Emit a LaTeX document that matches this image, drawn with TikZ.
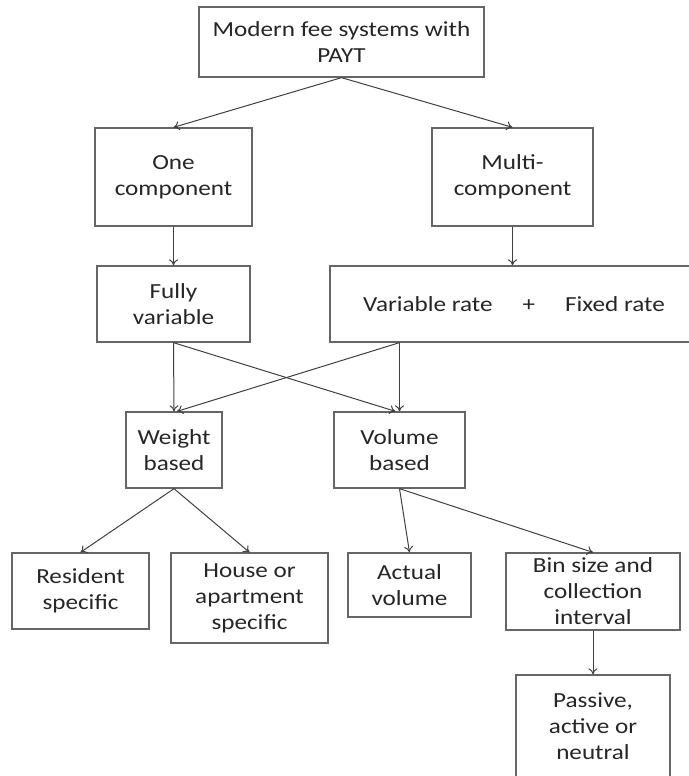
\documentclass[tikz,border=0pt]{standalone}
\usepackage{fontspec}
\setmainfont[FakeStretch=1.17]{Carlito}
\usetikzlibrary{arrows.meta}
\definecolor{boxline}{HTML}{666666}
\definecolor{arrline}{HTML}{404040}
\definecolor{txt}{HTML}{262626}
\tikzset{
  box/.style={draw=boxline, line width=1.3pt, inner sep=0pt, align=center, text=txt,
    font=\fontsize{21.5}{26}\selectfont},
  conn/.style={draw=arrline, line width=1pt, -{To[length=6pt,width=9pt]}}
}
\begin{document}
\begin{tikzpicture}[x=1pt,y=-1pt]
\useasboundingbox (0,0) rectangle (688,776);
\node[box, minimum width=285pt, minimum height=70pt] (top) at (341.5,42) {Modern fee systems with\\PAYT};
\node[box, minimum width=157pt, minimum height=98pt] (one) at (173.5,177) {One\\component};
\node[box, minimum width=161pt, minimum height=98pt] (multi) at (512.5,177) {Multi-\\component};
\node[box, minimum width=153pt, minimum height=76pt] (fully) at (173.5,304) {Fully\\variable};
\node[box, minimum width=368pt, minimum height=76pt] (varfix) at (514,304) {Variable rate\hspace{30pt}+\hspace{30pt}Fixed rate};
\node[box, minimum width=96pt, minimum height=76pt] (weight) at (174,450) {Weight\\based};
\node[box, minimum width=131pt, minimum height=76pt] (volume) at (399.5,450) {Volume\\based};
\node[box, minimum width=137pt, minimum height=76pt] (resident) at (80.5,591) {Resident\\specific};
\node[box, minimum width=157pt, minimum height=90pt] (house) at (249.5,598) {House or\\apartment\\specific};
\node[box, minimum width=123pt, minimum height=64pt] (actual) at (409.5,585) {Actual\\volume};
\node[box, minimum width=174pt, minimum height=77pt] (bin) at (593,591.5) {Bin size and\\collection\\interval};
\node[box, minimum width=154pt, minimum height=103pt] (passive) at (593,726.5) {Passive,\\active or\\neutral};

\draw[conn] (top.south) -- (one.north);
\draw[conn] (top.south) -- (multi.north);
\draw[conn] (one.south) -- (fully.north);
\draw[conn] (multi.south) -- (multi.south |- varfix.north);
\draw[conn] (fully.south) -- (weight.north);
\draw[conn] (fully.south) -- ([xshift=-4pt]volume.north);
\draw[conn] (varfix.south -| volume.north) -- ([xshift=3pt]weight.north);
\draw[conn] (varfix.south -| volume.north) -- (volume.north);
\draw[conn] (weight.south) -- (resident.north);
\draw[conn] (weight.south) -- (house.north);
\draw[conn] (volume.south) -- (actual.north);
\draw[conn] (volume.south) -- (bin.north);
\draw[conn] (bin.south) -- (passive.north);
\end{tikzpicture}
\end{document}
